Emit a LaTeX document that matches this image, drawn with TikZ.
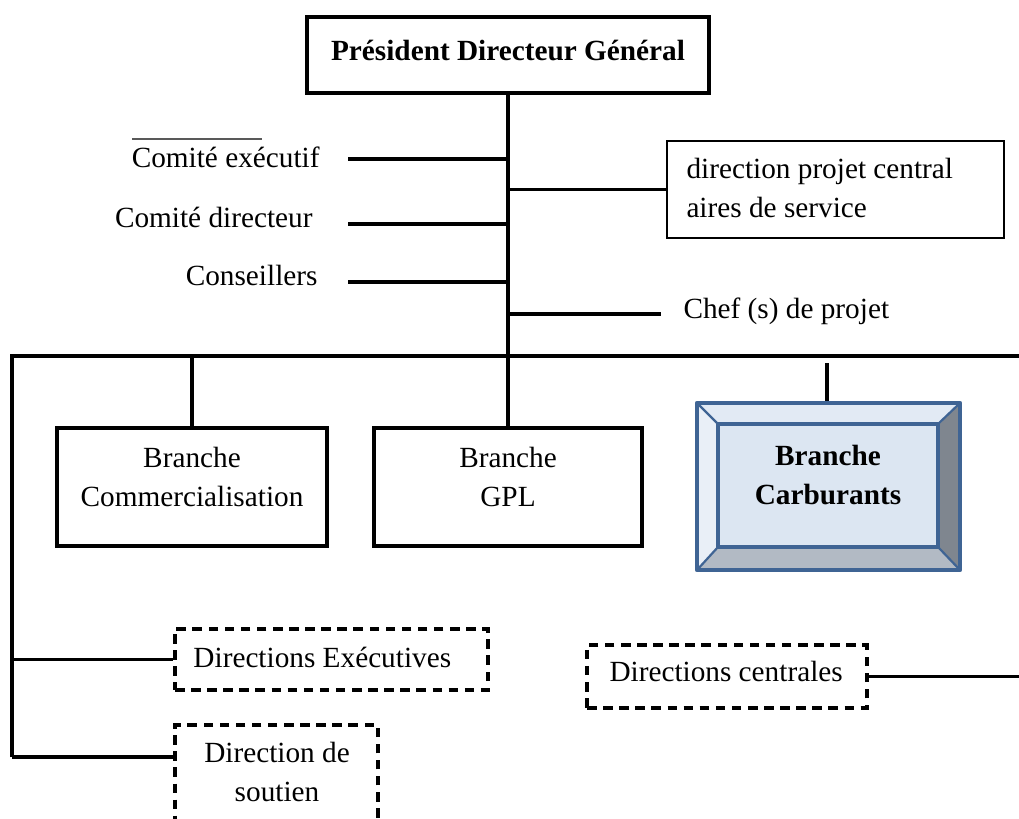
\documentclass[tikz,border=0pt]{standalone}
\usepackage{fontspec}
\setmainfont{Liberation Serif}
\usetikzlibrary{fit}
\definecolor{bevelblue}{HTML}{3F6494}
\definecolor{bevelface}{HTML}{DCE6F2}
\definecolor{beveltop}{HTML}{E2EAF4}
\definecolor{bevelleft}{HTML}{E9EFF7}
\definecolor{bevelright}{HTML}{7F868F}
\definecolor{bevelbottom}{HTML}{B2BAC4}
\begin{document}
\begin{tikzpicture}[x=0.41pt,y=-0.41pt,
  every node/.style={font=\fontsize{12}{15.6}\selectfont, inner sep=0pt},
  link/.style={line width=1.45pt},
  solidbox/.style={draw, line width=1.65pt, inner sep=0pt},
  thinbox/.style={draw, line width=0.55pt, inner sep=0pt},
  dashbox/.style={draw, line width=1.35pt, dash pattern=on 3.9pt off 2.7pt, inner sep=0pt},
  bevel/.style={draw=bevelblue, line width=1.9pt, line join=round}
]
\useasboundingbox (0,0) rectangle (1019,818);

% President
\node[solidbox, fit={(307,17) (709,93)}] (pdg) {};
\node[font=\fontsize{12}{14}\selectfont\bfseries, anchor=base] (pdgtext) at (508,60) {Président Directeur Général};

% main trunk and bus
\coordinate (bus) at (508,356);
\coordinate (busL) at (12,356);
\coordinate (busR) at (1019,356);
\coordinate (leftEnd) at (12,757);
\draw[link] (pdg.south) -- (bus);
\draw[link] (leftEnd) -- (busL) -- (busR);

% staff bodies on the left of the trunk
\node[anchor=base east] (comex) at (320,167) {Comité exécutif};
\node[anchor=base east] (comdir) at (313,227) {Comité directeur};
\node[anchor=base east] (cons) at (318,285) {Conseillers};
\coordinate (ovl) at (132,139);
\draw[black!65, line width=0.6pt] (ovl) -- ++(130,0);
\coordinate (comexEnd) at (348,159);
\coordinate (comdirEnd) at (348,224);
\coordinate (consEnd) at (348,282);
\draw[link] (comexEnd) -- (comexEnd -| bus);
\draw[link] (comdirEnd) -- (comdirEnd -| bus);
\draw[link] (consEnd) -- (consEnd -| bus);

% staff on the right of the trunk
\node[thinbox, fit={(667,141) (1004,238)}] (dpc) {};
\node[anchor=west, align=left] (dpctext) at (686,188) {direction projet central\\aires de service};
\draw[link] (bus |- dpc.west) -- (dpc.west);
\node[anchor=base west] (chef) at (683,318) {Chef (s) de projet};
\coordinate (chefEnd) at (661,314);
\draw[link] (bus |- chefEnd) -- (chefEnd);

% branches
\node[solidbox, fit={(57,428) (327,546)}] (com) {};
\node[align=center] (comtext) at (192,477) {Branche\\Commercialisation};
\draw[link] (com.north |- bus) -- (com.north);

\node[solidbox, fit={(374,428) (642,546)}] (gpl) {};
\node[align=center] (gpltext) at (508,477) {Branche\\GPL};
\draw[link] (gpl.north |- bus) -- (gpl.north);

% bevelled box
\fill[beveltop] (697,403) -- (960,403) -- (938,424) -- (718,424) -- cycle;
\fill[bevelleft] (697,403) -- (718,424) -- (718,547) -- (697,570) -- cycle;
\fill[bevelright] (960,403) -- (960,570) -- (938,547) -- (938,424) -- cycle;
\fill[bevelbottom] (697,570) -- (718,547) -- (938,547) -- (960,570) -- cycle;
\fill[bevelface] (718,424) rectangle (938,547);
\draw[bevelblue, line width=0.9pt] (697,403) -- (718,424) (960,403) -- (938,424)
  (697,570) -- (718,547) (960,570) -- (938,547);
\draw[bevel] (718,424) rectangle (938,547);
\node[bevel, fit={(697,403) (960,570)}] (carb) {};
\node[align=center, font=\fontsize{12}{15.6}\selectfont\bfseries] (carbtext) at (828,475) {Branche\\Carburants};
\coordinate (carbTop) at (827,363);
\draw[link] (carbTop) -- (carbTop |- carb.north);

% directions
\node[dashbox, fit={(175,629) (488,690)}] (dexe) {};
\node[anchor=base west] (dexetext) at (193,667) {Directions Exécutives};
\draw[link] (dexe.west -| busL) -- (dexe.west);

\node[dashbox, fit={(175,725) (378,840)}] (dsout) {};
\node[align=center, font=\fontsize{12}{16}\selectfont] (dsouttext) at (277,772) {Direction de\\soutien};
\draw[link] (leftEnd) -- (leftEnd -| dsout.west);

\node[dashbox, fit={(587,645) (867,708)}] (dcen) {};
\node[anchor=base west] (dcentext) at (609,681) {Directions centrales};
\draw[link] (dcen.east) -- (dcen.east -| busR);
\end{tikzpicture}
\end{document}
